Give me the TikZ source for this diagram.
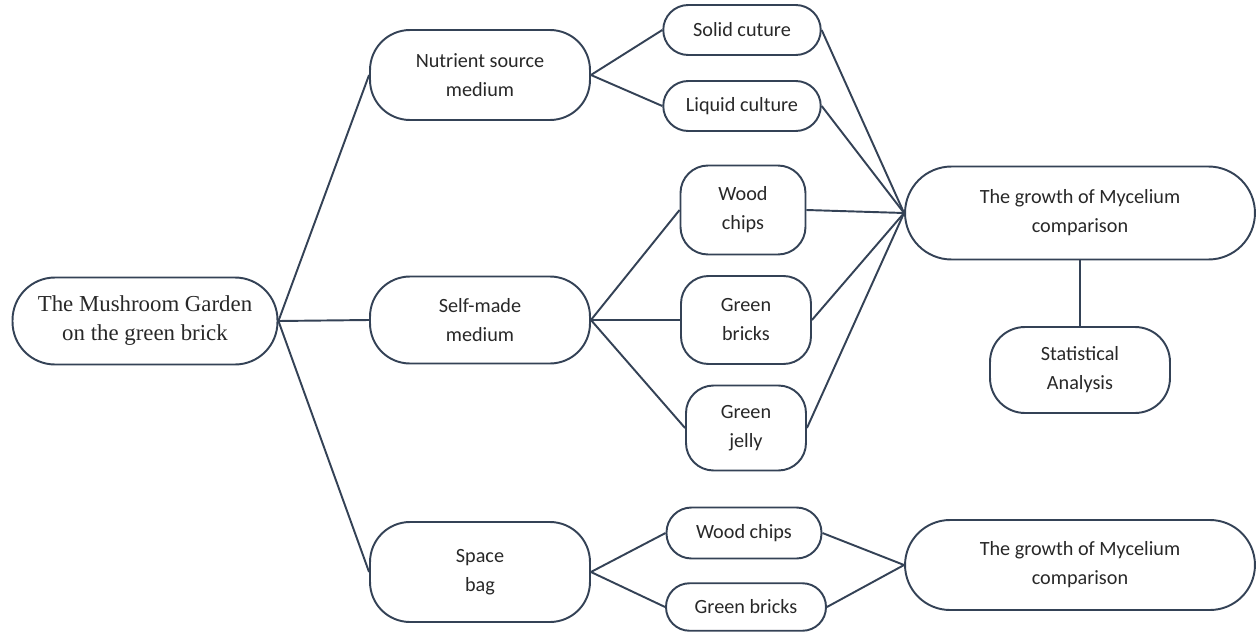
\documentclass[tikz,border=0pt]{standalone}
\usepackage{fontspec}
\usepackage{tikz}
\usetikzlibrary{positioning}
\setmainfont{Carlito}
\newfontfamily\timesfont{Liberation Serif}
\definecolor{mgLine}{RGB}{52,66,86}
\definecolor{mgText}{RGB}{40,40,40}

\tikzset{
  stagebox/.style={draw=mgLine, line width=1.1pt, align=center, text=mgText,
    font=\fontsize{11.5}{16.5}\selectfont, inner sep=2pt},
  link/.style={draw=mgLine, line width=1.1pt}
}

\begin{document}
\begin{tikzpicture}[x=0.02cm,y=-0.02cm]
\useasboundingbox (0,0) rectangle (1259,632);
% root
\node[stagebox, rounded corners=0.85cm, minimum width=5.3cm, minimum height=1.74cm,
  font=\timesfont\fontsize{13}{16.5}\selectfont] (root) at (145,321) {The Mushroom Garden\\on the green brick};
% second level
\node[stagebox, rounded corners=0.8cm, minimum width=4.4cm, minimum height=1.8cm] (nutrient) at (480,75) {Nutrient source\\medium};
\node[stagebox, rounded corners=0.8cm, minimum width=4.4cm, minimum height=1.74cm] (selfmade) at (480,320) {Self-made\\medium};
\node[stagebox, rounded corners=0.8cm, minimum width=4.4cm, minimum height=2cm] (spacebag) at (480,572) {Space\\bag};
% third level
\node[stagebox, rounded corners=0.5cm, minimum width=3.15cm, minimum height=1cm] (solid) at (742,30) {Solid cuture};
\node[stagebox, rounded corners=0.5cm, minimum width=3.15cm, minimum height=1cm] (liquid) at (742,106) {Liquid culture};
\node[stagebox, rounded corners=0.55cm, minimum width=2.5cm, minimum height=1.78cm] (woodmid) at (743,210) {Wood\\chips};
\node[stagebox, rounded corners=0.55cm, minimum width=2.6cm, minimum height=1.76cm] (brickmid) at (746,320) {Green\\bricks};
\node[stagebox, rounded corners=0.55cm, minimum width=2.4cm, minimum height=1.7cm] (jelly) at (746,428) {Green\\jelly};
\node[stagebox, rounded corners=0.5cm, minimum width=3.1cm, minimum height=1.02cm] (woodbag) at (744,533) {Wood chips};
\node[stagebox, rounded corners=0.47cm, minimum width=3.2cm, minimum height=0.95cm] (brickbag) at (746,607) {Green bricks};
% results
\node[stagebox, rounded corners=0.93cm, minimum width=7cm, minimum height=1.86cm] (growthtop) at (1080,213) {The growth of Mycelium\\comparison};
\node[stagebox, rounded corners=0.7cm, minimum width=3.6cm, minimum height=1.72cm] (stats) at (1080,370) {Statistical\\Analysis};
\node[stagebox, rounded corners=0.9cm, minimum width=7cm, minimum height=1.8cm] (growthbag) at (1080,565) {The growth of Mycelium\\comparison};

% connectors
\draw[link] (root.east) -- (nutrient.west);
\draw[link] (root.east) -- (selfmade.west);
\draw[link] (root.east) -- (spacebag.west);
\draw[link] (nutrient.east) -- (solid.west);
\draw[link] (nutrient.east) -- (liquid.west);
\draw[link] (selfmade.east) -- (woodmid.west);
\draw[link] (selfmade.east) -- (brickmid.west);
\draw[link] (selfmade.east) -- (jelly.west);
\foreach \src in {solid,liquid,woodmid,brickmid,jelly}
  \draw[link] (\src.east) -- (growthtop.west);
\draw[link] (growthtop.south) -- (stats.north);
\draw[link] (spacebag.east) -- (woodbag.west);
\draw[link] (spacebag.east) -- (brickbag.west);
\draw[link] (woodbag.east) -- (growthbag.west);
\draw[link] (brickbag.east) -- (growthbag.west);
\end{tikzpicture}
\end{document}
